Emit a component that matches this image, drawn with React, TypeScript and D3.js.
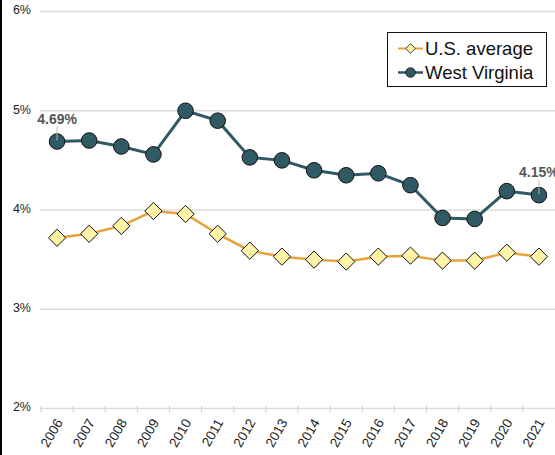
import * as d3 from 'd3'
import { useEffect, useRef } from 'react'

const years = ['2006', '2007', '2008', '2009', '2010', '2011', '2012', '2013', '2014', '2015', '2016', '2017', '2018', '2019', '2020', '2021']
const usAverage = [3.72, 3.76, 3.84, 3.99, 3.96, 3.76, 3.59, 3.53, 3.5, 3.48, 3.53, 3.54, 3.49, 3.49, 3.57, 3.53]
const westVirginia = [4.69, 4.7, 4.64, 4.56, 5.0, 4.9, 4.53, 4.5, 4.4, 4.35, 4.37, 4.25, 3.92, 3.91, 4.19, 4.15]
const yTicks = [2, 3, 4, 5, 6]
const seriesNames = ['U.S. average', 'West Virginia']

const App = () => {
    const svgRef = useRef(null)

    useEffect(() => {
        const w = 555
        const h = 455
        const font = '"Liberation Sans", Arial, sans-serif'
        const wvColor = '#2f5963'
        const usLine = '#e8a23c'
        const usFill = '#fff3a8'

        const svg = d3.select(svgRef.current).attr('width', w).attr('height', h)
        svg.selectAll('*').remove()
        svg.append('rect').attr('width', w).attr('height', h).attr('fill', '#fff')

        const x = d3.scaleBand().domain(years).range([41, 555]).paddingInner(0).paddingOuter(0)
        const y = d3.scaleLinear().domain([2, 6]).range([408.5, 11.5])
        const cx = (d: string) => (x(d) as number) + x.bandwidth() / 2

        // grid lines + y labels
        svg.selectAll('.grid').data(yTicks).join('line')
            .attr('x1', 40).attr('x2', w)
            .attr('y1', d => y(d)).attr('y2', d => y(d))
            .attr('stroke', '#dcdcdc').attr('stroke-width', 1.3)

        svg.selectAll('.ylab').data(yTicks).join('text')
            .attr('x', 31).attr('y', d => y(d) - 0.5)
            .attr('text-anchor', 'end').attr('dominant-baseline', 'middle')
            .style('font-family', font).style('font-size', '12.5px').attr('fill', '#222')
            .text(d => d + '%')

        // x ticks at band edges
        svg.selectAll('.xtick').data(years).join('line')
            .attr('x1', d => x(d) as number).attr('x2', d => x(d) as number)
            .attr('y1', y(2) - 3).attr('y2', y(2) + 4)
            .attr('stroke', '#d0d0d0').attr('stroke-width', 1)

        svg.selectAll('.xlab').data(years).join('text')
            .attr('transform', d => `translate(${cx(d) + 3},${y(2) + 12}) rotate(-60)`)
            .attr('text-anchor', 'end').attr('dominant-baseline', 'middle')
            .style('font-family', font).style('font-size', '13.5px').attr('fill', '#222')
            .text(d => d)

        // lines
        const line = d3.line<number>().x((_, i) => cx(years[i])).y(d => y(d))

        svg.append('path').attr('d', line(usAverage)).attr('fill', 'none')
            .attr('stroke', usLine).attr('stroke-width', 2.5)
        const diamond = d3.symbol().type(d3.symbolDiamond2).size(190)
        svg.selectAll('.us').data(usAverage).join('path')
            .attr('d', diamond)
            .attr('transform', (d, i) => `translate(${cx(years[i])},${y(d)})`)
            .attr('fill', usFill).attr('stroke', '#111').attr('stroke-width', 1)

        svg.append('path').attr('d', line(westVirginia)).attr('fill', 'none')
            .attr('stroke', wvColor).attr('stroke-width', 3)
        svg.selectAll('.wv').data(westVirginia).join('circle')
            .attr('cx', (d, i) => cx(years[i])).attr('cy', d => y(d)).attr('r', 7.8)
            .attr('fill', wvColor).attr('stroke', '#111').attr('stroke-width', 1)

        // data labels for first and last WV point
        const labelIdx = [0, westVirginia.length - 1]
        labelIdx.forEach(i => {
            const px = cx(years[i])
            const py = y(westVirginia[i])
            svg.append('line').attr('x1', px).attr('x2', px).attr('y1', py - 15).attr('y2', py - 1)
                .attr('stroke', '#bbb').attr('stroke-width', 1)
            svg.append('text').attr('x', px).attr('y', py - 18)
                .attr('text-anchor', 'middle')
                .style('font-family', font).style('font-size', '14px').style('font-weight', 'bold')
                .attr('fill', '#555')
                .text(westVirginia[i].toFixed(2) + '%')
        })

        // legend
        const lg = svg.append('g')
        lg.append('rect').attr('x', 387.5).attr('y', 32.5).attr('width', 159).attr('height', 54)
            .attr('fill', '#fff').attr('stroke', '#111').attr('stroke-width', 1)
        seriesNames.forEach((name, i) => {
            const ly = 48.5 + i * 24
            lg.append('line').attr('x1', 398).attr('x2', 423).attr('y1', ly).attr('y2', ly)
                .attr('stroke', i === 0 ? usLine : wvColor).attr('stroke-width', i === 0 ? 2 : 2.5)
            if (i === 0) {
                lg.append('path').attr('d', d3.symbol().type(d3.symbolDiamond2).size(60)())
                    .attr('transform', `translate(410.5,${ly})`)
                    .attr('fill', usFill).attr('stroke', '#111').attr('stroke-width', 0.8)
            } else {
                lg.append('circle').attr('cx', 410.5).attr('cy', ly).attr('r', 4.8)
                    .attr('fill', wvColor).attr('stroke', '#111').attr('stroke-width', 0.8)
            }
            lg.append('text').attr('x', 425).attr('y', ly + 6)
                .style('font-family', font).style('font-size', '18.5px').attr('fill', '#111')
                .text(name)
        })

        // left border
        svg.append('rect').attr('x', 0).attr('y', 0).attr('width', 2).attr('height', h).attr('fill', '#000')
    }, [])

    return (
        <div style={{ position: 'absolute', left: 0, top: 0 }}>
            <svg ref={svgRef} style={{ display: 'block' }}></svg>
        </div>
    )
}

export default App
